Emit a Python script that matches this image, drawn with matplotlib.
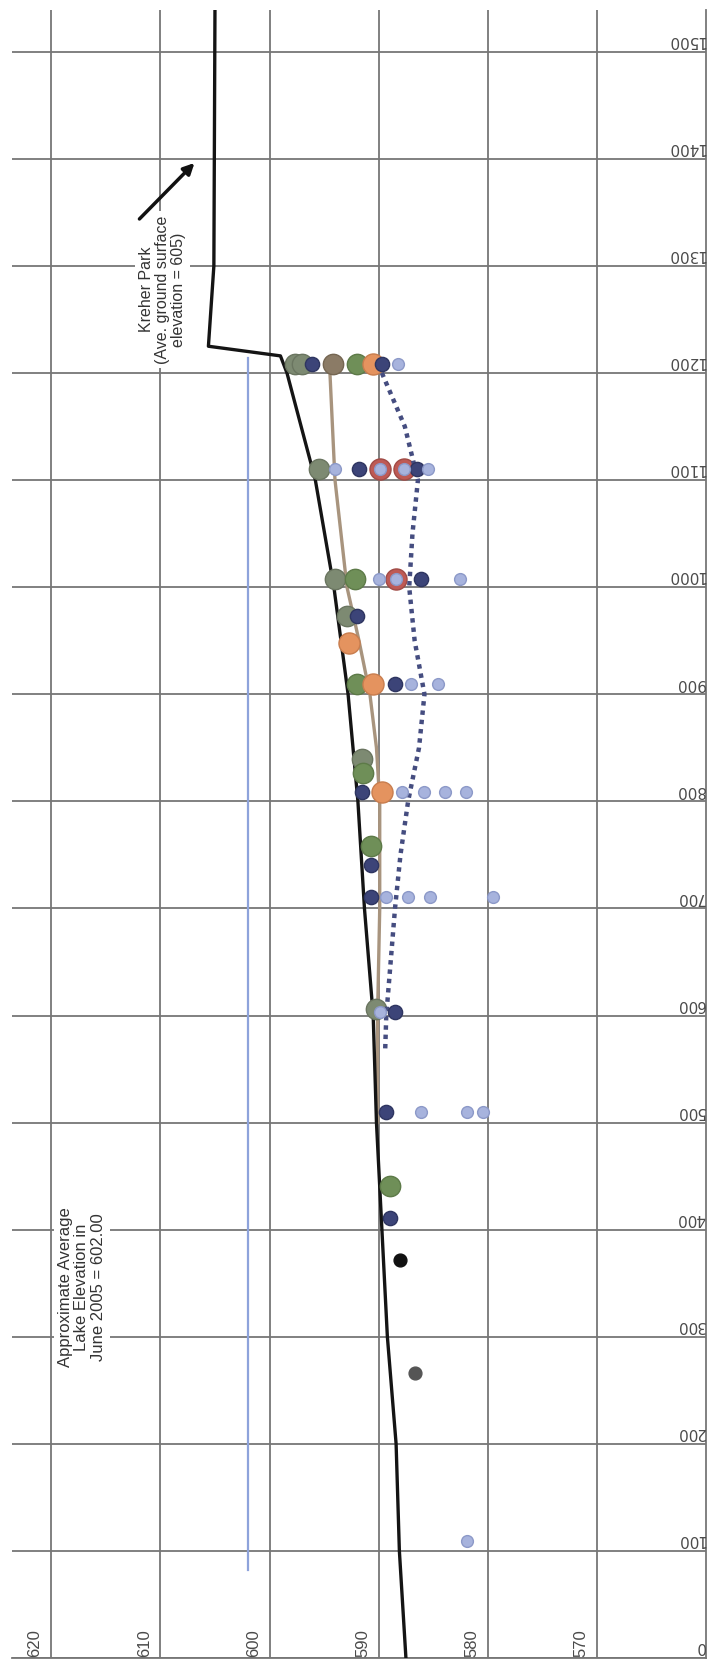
import matplotlib
matplotlib.use("Agg")
import matplotlib.pyplot as plt

# elevation / distance
elev_ticks = [620, 610, 600, 590, 580, 570]
dist_ticks = [0, 100, 200, 300, 400, 500, 600, 700, 800, 900, 1000, 1100, 1200, 1300, 1400, 1500]

ground_dist = [0, 100, 200, 300, 400, 500, 600, 700, 800, 900, 1000, 1100, 1200, 1216, 1225, 1300, 1539]
ground_elev = [587.5, 588.1, 588.4, 589.2, 589.7, 590.2, 590.5, 591.3, 591.9, 592.8, 594.1, 595.8, 598.4, 599.0, 605.6, 605.1, 605.0]

mean_dist = [1208, 1100, 1000, 950, 900, 850, 800, 700, 600, 500]
mean_elev = [594.5, 594.0, 592.9, 591.8, 590.8, 590.2, 589.9, 589.9, 590.1, 590.1]

dot_dist = [1200, 1150, 1100, 1050, 1000, 950, 900, 850, 800, 750, 700, 650, 600, 568]
dot_elev = [589.7, 587.6, 586.4, 586.9, 587.2, 586.7, 585.8, 586.3, 587.3, 588.0, 588.5, 588.9, 589.3, 589.4]

lake_dist = [82, 1214]
lake_elev = [602.0, 602.0]

grey_green_d = [1208, 1208, 1110, 1008, 973, 840, 606]
grey_green_e = [597.7, 597.0, 595.5, 594.0, 592.9, 591.5, 590.2]

olive_d = [1208, 1008, 910, 826, 758, 441]
olive_e = [592.0, 592.2, 592.0, 591.4, 590.7, 589.0]

brown_d = [1208]
brown_e = [594.2]

red_d = [1110, 1110, 1008]
red_e = [589.9, 587.7, 588.4]

orange_d = [1208, 948, 910, 809]
orange_e = [590.5, 592.7, 590.5, 589.7]

navy_d = [1208, 1208, 1110, 1110, 1008, 973, 910, 809, 741, 711, 603, 510, 411]
navy_e = [596.1, 589.7, 591.8, 586.5, 586.1, 592.0, 588.5, 591.5, 590.7, 590.7, 588.5, 589.3, 589.0]

light_d = [1208, 1110, 1110, 1110, 1110, 1008, 1008, 1008, 910, 910, 809, 809, 809, 809,
           711, 711, 711, 711, 603, 510, 510, 510, 109]
light_e = [588.2, 585.5, 594.0, 589.9, 587.7, 590.0, 588.4, 582.5, 587.0, 584.6, 587.9, 585.8, 583.9, 582.0,
           589.3, 587.3, 585.3, 579.5, 589.9, 586.1, 581.9, 580.4, 581.9]

black_d = [372]
black_e = [588.0]
dgrey_d = [266]
dgrey_e = [586.7]

fig = plt.figure(figsize=(7.12, 16.69), dpi=100)
ax = fig.add_axes([12 / 712, 11 / 1669, 694 / 712, 1648 / 1669])
ax.set_xlim(623.6, 560)
ax.set_ylim(0, 1539)

ax.set_xticks([620, 610, 600, 590, 580, 570])
ax.set_yticks(dist_ticks)
ax.grid(True, color='#767676', lw=1.3)
ax.tick_params(left=False, bottom=False, labelleft=False, labelbottom=False)
for s in ['left', 'top']:
    ax.spines[s].set_visible(False)
for s in ['right', 'bottom']:
    ax.spines[s].set_color('#767676')
    ax.spines[s].set_linewidth(1.3)

# lines
ax.plot(lake_elev, lake_dist, color='#8ea3db', lw=1.6, zorder=3)
ax.plot(mean_elev, mean_dist, color='#a8947e', lw=2.4, zorder=3)
ax.plot(dot_elev, dot_dist, color='#454d80', lw=3.2, linestyle=(0, (1, 1.1)),
        dash_capstyle='butt', zorder=6)
ax.plot(ground_elev, ground_dist, color='#141414', lw=2.4, zorder=4)

# scatter points
big = 215
ax.scatter(grey_green_e, grey_green_d, s=big, color='#7d8a72', edgecolors='#6a7560', zorder=5)
ax.scatter(brown_e, brown_d, s=big, color='#8b7b66', edgecolors='#756652', zorder=5)
ax.scatter(olive_e, olive_d, s=big, color='#6f8f58', edgecolors='#5d7a48', zorder=5)
ax.scatter(red_e, red_d, s=230, color='#be5a55', edgecolors='#a04a45', zorder=5)
ax.scatter(orange_e, orange_d, s=230, color='#e4935f', edgecolors='#c87d4e', zorder=5)
ax.scatter(navy_e, navy_d, s=105, color='#3c4478', edgecolors='#2e3560', zorder=6)
ax.scatter(light_e, light_d, s=72, color='#a7b3dd', edgecolors='#8c99c8', zorder=7)
ax.scatter(black_e, black_d, s=85, color='#111111', zorder=6)
ax.scatter(dgrey_e, dgrey_d, s=85, color='#555555', zorder=6)

# tick labels, drawn inside like the scan
for e in elev_ticks:
    ax.text(e + 0.8, 1, str(e), rotation=90, ha='right', va='bottom',
            fontsize=12, family='Liberation Sans', color='#4a4a4a', zorder=8)
for d in dist_ticks:
    ax.text(560.1, d + 3.5, str(d), rotation=180, ha='right', va='bottom',
            fontsize=11, color='#4a4a4a', zorder=8)

# annotations
ax.text(609.8, 1278, 'Kreher Park\n(Ave. ground surface\nelevation = 605)', rotation=90,
        ha='center', va='center', fontsize=11.5, family='Liberation Sans', color='#333333',
        linespacing=1.1, bbox=dict(facecolor='white', edgecolor='none', pad=3), zorder=9)
ax.annotate('', xy=(606.7, 1398), xytext=(612.1, 1342),
            arrowprops=dict(arrowstyle='-|>', lw=2.5, color='#111111', mutation_scale=16), zorder=9)

ax.text(617.2, 346, 'Approximate Average\nLake Elevation in\nJune 2005 = 602.00', rotation=90,
        ha='center', va='center', fontsize=12, family='Liberation Sans', color='#333333',
        linespacing=1.1, bbox=dict(facecolor='white', edgecolor='none', pad=3), zorder=9)

fig.savefig('out.png', dpi=100, facecolor='white')
